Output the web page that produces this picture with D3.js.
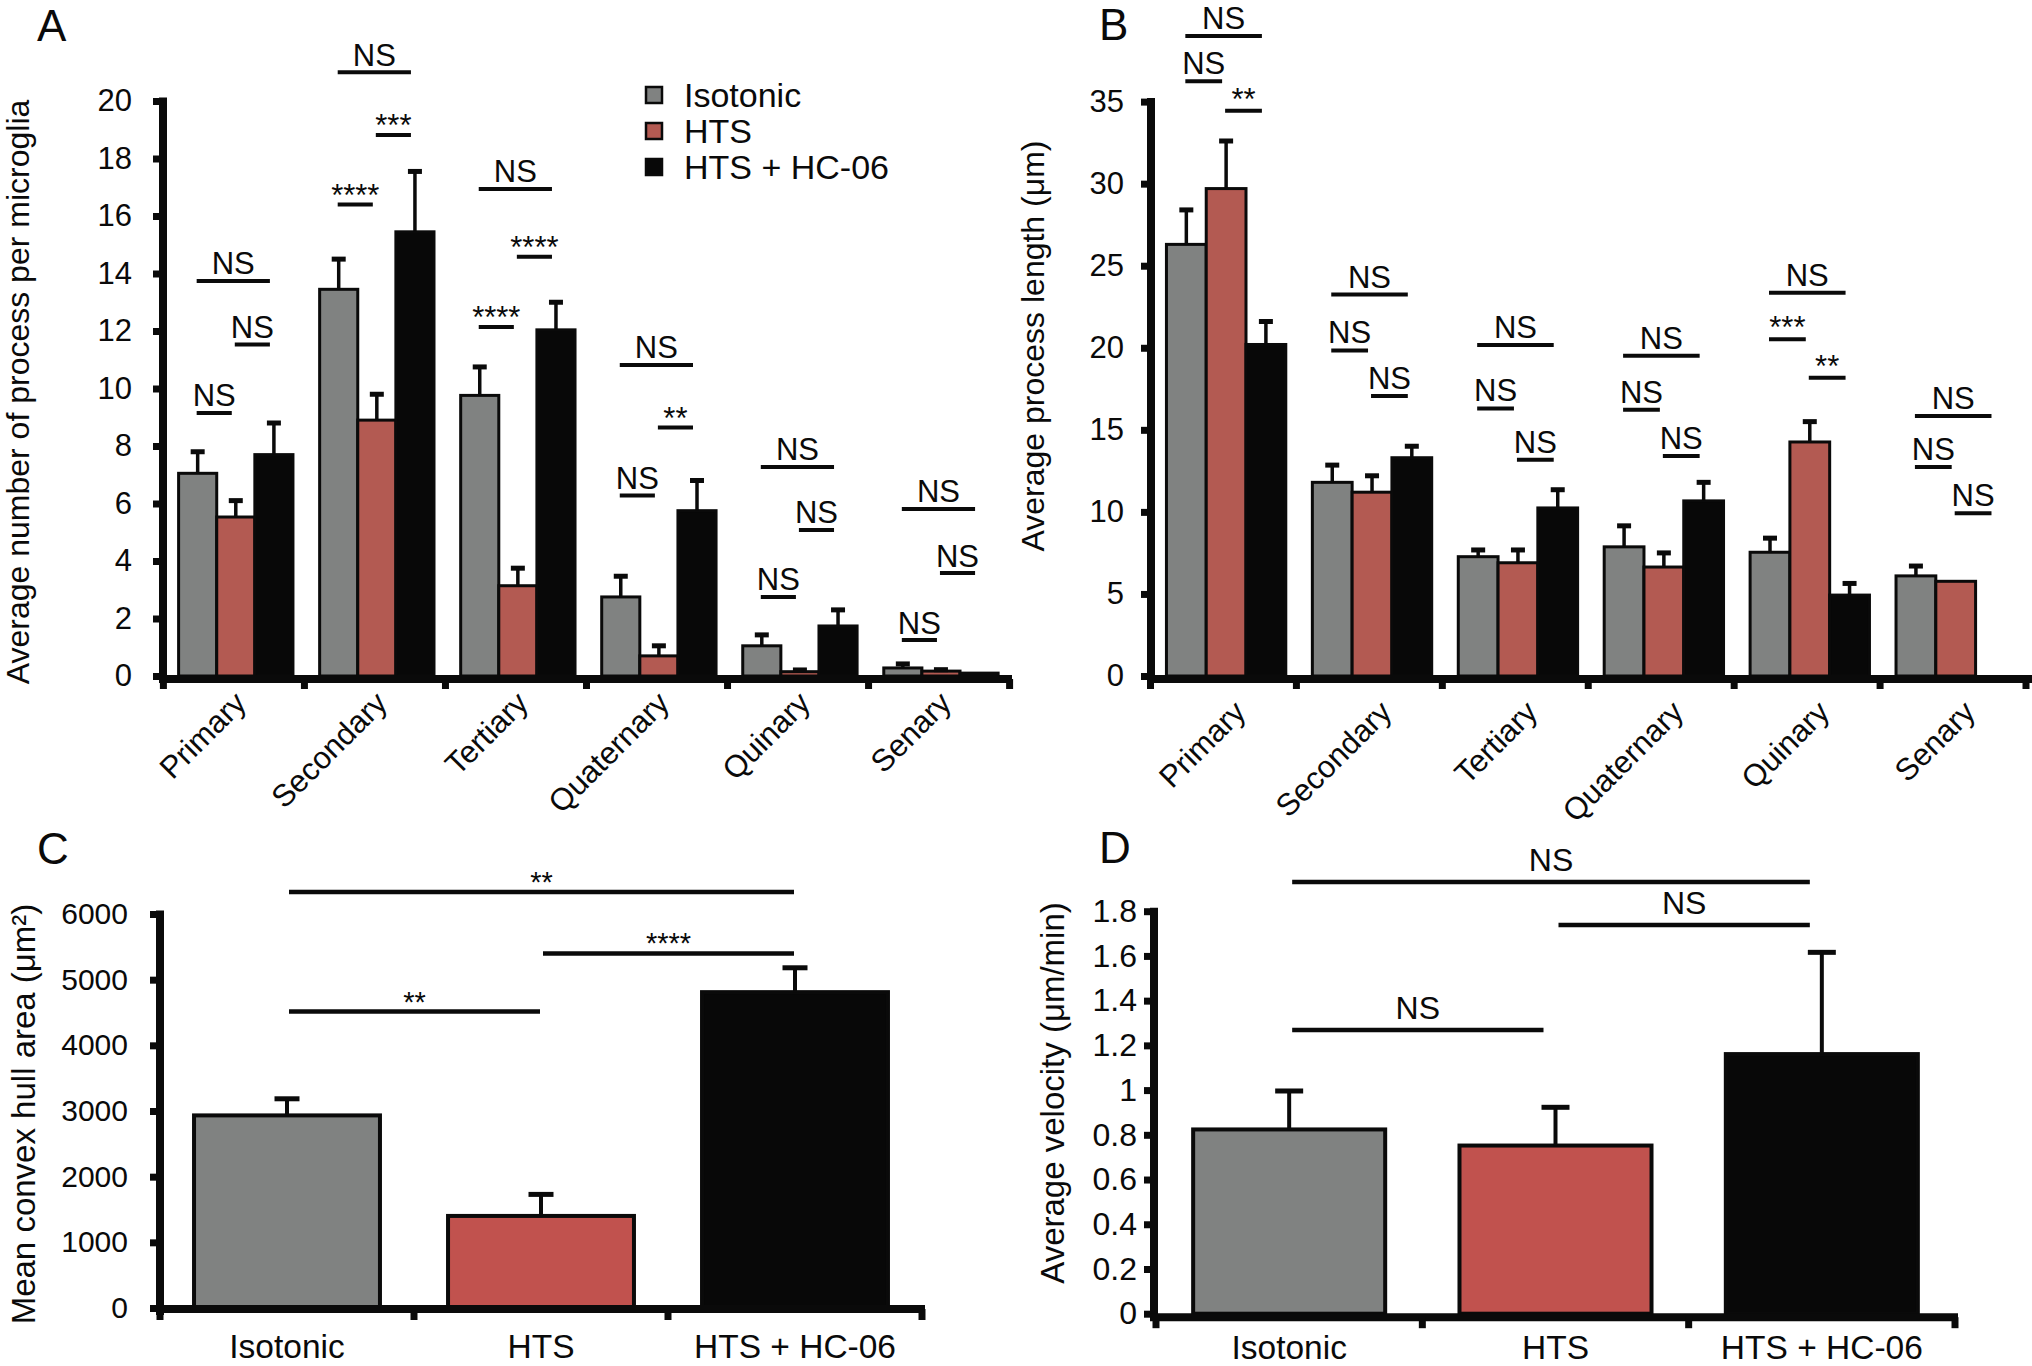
<!DOCTYPE html>
<html><head><meta charset="utf-8">
<script src="https://cdn.jsdelivr.net/npm/d3@7"></script>
<style>
body{margin:0;background:#fff}
svg{display:block}
</style>
</head><body>
<svg id="fig" width="2032" height="1366"></svg>
<script>
// ---------------- DATA ----------------
const series = ["Isotonic", "HTS", "HTS + HC-06"];
const branchCategories = ["Primary", "Secondary", "Tertiary", "Quaternary", "Quinary", "Senary"];

// Panel A: average number of processes per microglia (mean, SEM)
const countIsotonic = [7.05, 13.45, 9.76, 2.75, 1.05, 0.28];
const countIsotonicSem = [0.75, 1.05, 0.99, 0.72, 0.38, 0.14];
const countHTS = [5.53, 8.9, 3.14, 0.7, 0.15, 0.17];
const countHTSSem = [0.57, 0.9, 0.61, 0.35, 0.06, 0.05];
const countHC06 = [7.7, 15.45, 12.04, 5.75, 1.74, 0.1];
const countHC06Sem = [1.1, 2.1, 0.96, 1.05, 0.56, 0];
const countTicks = [0, 2, 4, 6, 8, 10, 12, 14, 16, 18, 20];

// Panel B: average process length (µm)
const lengthIsotonic = [26.3, 11.8, 7.27, 7.87, 7.54, 6.1];
const lengthIsotonicSem = [2.1, 1.05, 0.41, 1.28, 0.86, 0.6];
const lengthHTS = [29.7, 11.2, 6.9, 6.64, 14.26, 5.77];
const lengthHTSSem = [2.9, 1.0, 0.78, 0.86, 1.24, 0];
const lengthHC06 = [20.2, 13.3, 10.24, 10.67, 4.93, null];
const lengthHC06Sem = [1.4, 0.7, 1.11, 1.13, 0.71, null];
const lengthTicks = [0, 5, 10, 15, 20, 25, 30, 35];

// Panel C: mean convex hull area (µm²)
const hullArea = [2933, 1402, 4810];
const hullAreaSem = [253, 328, 371];
const hullTicks = [0, 1000, 2000, 3000, 4000, 5000, 6000];

// Panel D: average velocity (µm/min)
const velocity = [0.824, 0.752, 1.161];
const velocitySem = [0.172, 0.171, 0.455];
const velocityTicks = [0, 0.2, 0.4, 0.6, 0.8, 1.0, 1.2, 1.4, 1.6, 1.8];

// Significance annotations: [category index, series a, series b, label, bracket level in data units]
const sigA = [
  [0, 0, 2, "NS", 13.74], [0, 1, 2, "NS", 11.53], [0, 0, 1, "NS", 9.15],
  [1, 0, 2, "NS", 21.0], [1, 1, 2, "***", 18.82], [1, 0, 1, "****", 16.4],
  [2, 0, 2, "NS", 16.94], [2, 1, 2, "****", 14.58], [2, 0, 1, "****", 12.14],
  [3, 0, 2, "NS", 10.82], [3, 1, 2, "**", 8.64], [3, 0, 1, "NS", 6.28],
  [4, 0, 2, "NS", 7.27], [4, 1, 2, "NS", 5.08], [4, 0, 1, "NS", 2.75],
  [5, 0, 2, "NS", 5.81], [5, 1, 2, "NS", 3.58], [5, 0, 1, "NS", 1.25]
];
const sigB = [
  [0, 0, 2, "NS", 39.0], [0, 0, 1, "NS", 36.24], [0, 1, 2, "**", 34.45],
  [1, 0, 2, "NS", 23.24], [1, 0, 1, "NS", 19.84], [1, 1, 2, "NS", 17.06],
  [2, 0, 2, "NS", 20.17], [2, 0, 1, "NS", 16.30], [2, 1, 2, "NS", 13.17],
  [3, 0, 2, "NS", 19.51], [3, 0, 1, "NS", 16.22], [3, 1, 2, "NS", 13.41],
  [4, 0, 2, "NS", 23.35], [4, 0, 1, "***", 20.52], [4, 1, 2, "**", 18.18],
  [5, 0, 2, "NS", 15.84], [5, 0, 1, "NS", 12.74], [5, 1, 2, "NS", 9.91]
];
// [series a, series b, label, level]
const sigC = [[0, 2, "**", 6335], [1, 2, "****", 5400], [0, 1, "**", 4515]];
const sigD = [[0, 2, "NS", 1.931], [1, 2, "NS", 1.738], [0, 1, "NS", 1.269]];

// ---------------- STYLE ----------------
const FONT = '"Liberation Sans", Arial, Helvetica, sans-serif';
const INK = "#0a0a0a";
const colorsAB = ["#808281", "#b35a52", "#080808"];
const colorsCD = ["#808281", "#c1524e", "#080808"];

const svg = d3.select("#fig");
svg.append("rect").attr("width", 2032).attr("height", 1366).attr("fill", "#fff");

function txt(g, s, x, y, size, anchor) {
  return g.append("text").attr("x", x).attr("y", y).attr("font-family", FONT)
    .attr("font-size", size).attr("fill", INK).attr("text-anchor", anchor || "start").text(s);
}

function yAxis(yScale, ticks, axisX, tickLen, pad, fontSize, fmt) {
  const g = svg.append("g").attr("transform", `translate(${axisX},0)`);
  g.call(d3.axisLeft(yScale).tickValues(ticks).tickSize(tickLen).tickSizeOuter(0)
    .tickPadding(pad).tickFormat(fmt));
  g.attr("font-family", FONT);
  g.select(".domain").remove();
  g.selectAll(".tick line").attr("stroke", INK).attr("stroke-width", 7);
  g.selectAll(".tick text").attr("font-size", fontSize).attr("fill", INK);
  const [b, t] = yScale.range();
  g.append("line").attr("x1", 0).attr("x2", 0).attr("y1", t - 3.5).attr("y2", b + 7)
    .attr("stroke", INK).attr("stroke-width", 8);
  return g;
}

function xBaseline(yBase, left, right, off, tickDown, edges) {
  svg.append("line").attr("x1", left).attr("x2", right).attr("y1", yBase + off).attr("y2", yBase + off)
    .attr("stroke", INK).attr("stroke-width", 8);
  svg.append("g").selectAll("line").data(edges).join("line")
    .attr("x1", d => d).attr("x2", d => d).attr("y1", yBase + off).attr("y2", yBase + tickDown)
    .attr("stroke", INK).attr("stroke-width", 7);
}

// ---------------- GROUPED PANELS (A, B) ----------------
function groupedPanel(cfg) {
  const x0 = d3.scaleBand().domain(branchCategories).range(cfg.xRange).padding(0);
  const x1 = d3.scaleBand().domain(series).range([0, x0.bandwidth()])
    .paddingInner(0).paddingOuter(cfg.outerPad).align(cfg.align);
  const y = d3.scaleLinear().domain(cfg.yDomain).range(cfg.yRange);
  const rows = [];
  branchCategories.forEach((c, i) => series.forEach((s, j) => {
    const v = cfg.values[j][i];
    if (v !== null && v !== undefined) rows.push({ c, s, j, v, e: cfg.sems[j][i] });
  }));
  const bw = x1.bandwidth();
  const g = svg.append("g");
  g.selectAll("rect.bar").data(rows).join("rect").attr("class", "bar")
    .attr("x", d => x0(d.c) + x1(d.s)).attr("width", bw)
    .attr("y", d => y(d.v)).attr("height", d => y(0) - y(d.v))
    .attr("fill", d => cfg.colors[d.j]).attr("stroke", INK).attr("stroke-width", 3);
  const errs = rows.filter(d => d.e > 0);
  g.selectAll("line.stem").data(errs).join("line").attr("class", "stem")
    .attr("x1", d => x0(d.c) + x1(d.s) + bw / 2).attr("x2", d => x0(d.c) + x1(d.s) + bw / 2)
    .attr("y1", d => y(d.v)).attr("y2", d => y(d.v + d.e)).attr("stroke", INK).attr("stroke-width", 3.5);
  g.selectAll("line.cap").data(errs).join("line").attr("class", "cap")
    .attr("x1", d => x0(d.c) + x1(d.s) + bw / 2 - 7).attr("x2", d => x0(d.c) + x1(d.s) + bw / 2 + 7)
    .attr("y1", d => y(d.v + d.e)).attr("y2", d => y(d.v + d.e)).attr("stroke", INK).attr("stroke-width", 5);

  // significance brackets
  const cx = (i, j) => x0(branchCategories[i]) + x1(series[j]) + bw / 2;
  const sg = svg.append("g");
  cfg.sig.forEach(([i, a, b, lab, lev]) => {
    const xa = cx(i, a) - 1, xb = cx(i, b) - 4, ly = y(lev);
    sg.append("line").attr("x1", xa).attr("x2", xb).attr("y1", ly).attr("y2", ly)
      .attr("stroke", INK).attr("stroke-width", 4);
    const isStar = lab.indexOf("*") >= 0;
    txt(sg, lab, (xa + xb) / 2, isStar ? ly + cfg.starOff : ly - cfg.nsOff, 31, "middle");
  });

  // axes
  yAxis(y, cfg.ticks, cfg.axisX, 10, cfg.labelPad, 31, d => d);
  const edges = branchCategories.map(c => x0(c)).concat([cfg.xRange[1]]);
  xBaseline(y(0), cfg.axisX - 4, cfg.xEnd, 3, 13, edges);
  const xg = svg.append("g").attr("transform", `translate(0,${y(0)})`)
    .call(d3.axisBottom(x0).tickSize(0).tickPadding(0));
  xg.attr("font-family", FONT);
  xg.select(".domain").remove();
  xg.selectAll(".tick text").attr("y", 0).attr("dy", null).attr("font-size", 31).attr("fill", INK)
    .attr("text-anchor", "end").attr("transform", `translate(${cfg.catDx},${cfg.catDy}) rotate(-45)`);

  // title
  txt(svg, cfg.title, 0, 0, 32, "middle").attr("transform", `translate(${cfg.titleX},${cfg.titleY}) rotate(-90)`);
}

groupedPanel({
  xRange: [163.4, 1009.6], xEnd: 1012, axisX: 163, outerPad: 0.35, align: 0.57,
  yDomain: [0, 20], yRange: [676, 101], ticks: countTicks, labelPad: 21,
  values: [countIsotonic, countHTS, countHC06], sems: [countIsotonicSem, countHTSSem, countHC06Sem],
  colors: colorsAB, sig: sigA, starOff: 1, nsOff: 6.5, catDx: 14, catDy: 29,
  title: "Average number of process per microglia", titleX: 29, titleY: 392
});

groupedPanel({
  xRange: [1150.5, 2026], xEnd: 2032, axisX: 1151, outerPad: 0.334, align: 0.6,
  yDomain: [0, 35], yRange: [676, 101.6], ticks: lengthTicks, labelPad: 17,
  values: [lengthIsotonic, lengthHTS, lengthHC06], sems: [lengthIsotonicSem, lengthHTSSem, lengthHC06Sem],
  colors: colorsAB, sig: sigB, starOff: -1, nsOff: 7, catDx: 24, catDy: 38,
  title: "Average process length (\u03bcm)", titleX: 1044, titleY: 346
});

// legend (panel A)
const lg = svg.append("g");
series.forEach((s, j) => {
  lg.append("rect").attr("x", 646).attr("y", 87 + 36 * j).attr("width", 16).attr("height", 16)
    .attr("fill", colorsAB[j]).attr("stroke", INK).attr("stroke-width", 2.5);
  txt(lg, s, 684, 95 + 36 * j + 12, 34, "start");
});

// ---------------- SIMPLE PANELS (C, D) ----------------
function simplePanel(cfg) {
  const x = d3.scaleBand().domain(series).range(cfg.xRange).paddingInner(cfg.pad).paddingOuter(cfg.pad / 2);
  const y = d3.scaleLinear().domain(cfg.yDomain).range(cfg.yRange);
  const rows = series.map((s, j) => ({ s, j, v: cfg.values[j], e: cfg.sems[j] }));
  const bw = x.bandwidth();
  const g = svg.append("g");
  g.selectAll("rect").data(rows).join("rect")
    .attr("x", d => x(d.s)).attr("width", bw).attr("y", d => y(d.v)).attr("height", d => y(0) - y(d.v))
    .attr("fill", d => cfg.colors[d.j]).attr("stroke", INK).attr("stroke-width", 4);
  g.selectAll("line.stem").data(rows).join("line").attr("class", "stem")
    .attr("x1", d => x(d.s) + bw / 2).attr("x2", d => x(d.s) + bw / 2)
    .attr("y1", d => y(d.v)).attr("y2", d => y(d.v + d.e)).attr("stroke", INK).attr("stroke-width", 4);
  g.selectAll("line.cap").data(rows).join("line").attr("class", "cap")
    .attr("x1", d => x(d.s) + bw / 2 - cfg.cap / 2).attr("x2", d => x(d.s) + bw / 2 + cfg.cap / 2)
    .attr("y1", d => y(d.v + d.e)).attr("y2", d => y(d.v + d.e)).attr("stroke", INK).attr("stroke-width", 5);

  const cx = j => x(series[j]) + bw / 2;
  const sg = svg.append("g");
  cfg.sig.forEach(([a, b, lab, lev]) => {
    const xa = cx(a) + cfg.l0, xb = cx(b) + cfg.l1, ly = y(lev);
    sg.append("line").attr("x1", xa).attr("x2", xb).attr("y1", ly).attr("y2", ly)
      .attr("stroke", INK).attr("stroke-width", 4.5);
    const isStar = lab.indexOf("*") >= 0;
    txt(sg, lab, (xa + xb) / 2, isStar ? ly + 0 : ly - cfg.nsOff, isStar ? 29 : 32, "middle");
  });

  yAxis(y, cfg.ticks, cfg.axisX, 10, cfg.labelPad, cfg.tickFont, cfg.fmt);
  const edges = series.map(s => x(s) - x.step() * x.paddingOuter()).concat([cfg.xRange[1]]);
  xBaseline(y(0), cfg.axisX - 4, cfg.xRange[1] + 3, cfg.axOff, cfg.axOff + 11, edges);
  const xg = svg.append("g").attr("transform", `translate(0,${y(0)})`)
    .call(d3.axisBottom(x).tickSize(0).tickPadding(0));
  xg.attr("font-family", FONT);
  xg.select(".domain").remove();
  xg.selectAll(".tick text").attr("y", cfg.labelY).attr("dy", null).attr("font-size", 33.5).attr("fill", INK);
  txt(svg, cfg.title, 0, 0, 33, "middle").attr("transform", `translate(${cfg.titleX},${cfg.titleY}) rotate(-90)`);
}

simplePanel({
  xRange: [160, 922], pad: 0.268, yDomain: [0, 6000], yRange: [1308, 914], ticks: hullTicks,
  values: hullArea, sems: hullAreaSem, colors: colorsCD, sig: sigC, cap: 25, l0: 2, l1: -1, nsOff: 11,
  axisX: 160, labelPad: 22, tickFont: 30, fmt: d => d, axOff: 1, labelY: 50,
  title: "Mean convex hull area (\u03bcm\u00b2)", titleX: 35, titleY: 1114
});

simplePanel({
  xRange: [1156, 1955], pad: 0.279, yDomain: [0, 1.8], yRange: [1313.7, 911.2], ticks: velocityTicks,
  values: velocity, sems: velocitySem, colors: colorsCD, sig: sigD, cap: 28, l0: 3, l1: -12, nsOff: 11,
  axisX: 1154, labelPad: 7, tickFont: 32, fmt: d => String(+d.toFixed(1)), axOff: 3.5, labelY: 45,
  title: "Average velocity (\u03bcm/min)", titleX: 1064, titleY: 1093
});

// panel letters
txt(svg, "A", 37, 41, 44);
txt(svg, "B", 1099, 40, 44);
txt(svg, "C", 37, 864, 44);
txt(svg, "D", 1099, 863, 44);
</script>
</body></html>
